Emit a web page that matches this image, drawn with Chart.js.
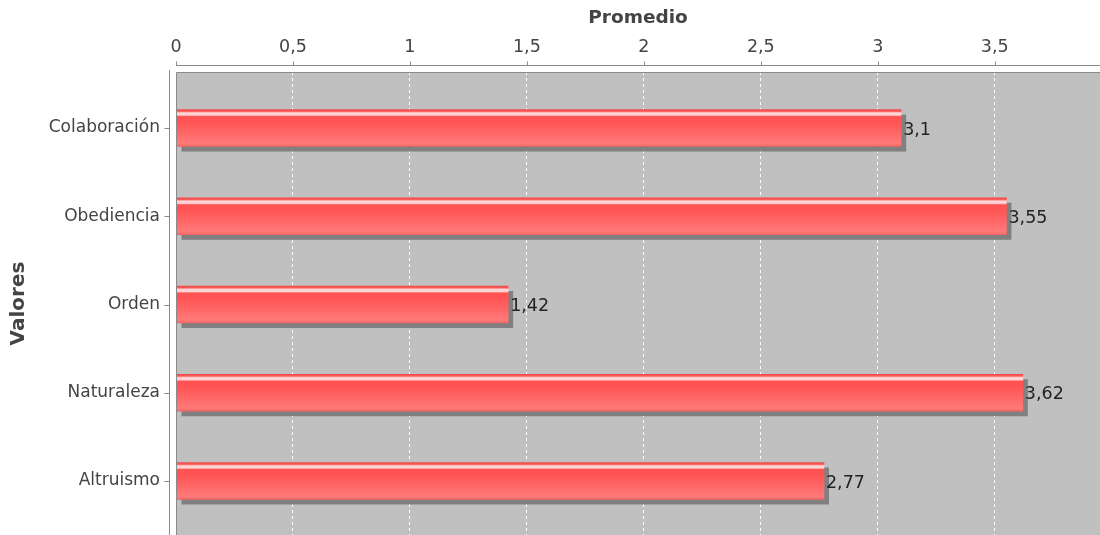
<!DOCTYPE html>
<html>
<head>
<meta charset="utf-8">
<script src="https://cdn.jsdelivr.net/npm/chart.js@4/dist/chart.umd.min.js"></script>
<style>
  html, body { margin: 0; padding: 0; background: #fff; overflow: hidden; }
  #wrap { width: 1100px; height: 535px; }
</style>
</head>
<body>
<div id="wrap"><canvas id="valoresChart"></canvas></div>
<script>
// Data
const categories = ["Colaboración", "Obediencia", "Orden", "Naturaleza", "Altruismo"];
const promedios = [3.1, 3.55, 1.42, 3.62, 2.77];
const xTicks = [0, 0.5, 1, 1.5, 2, 2.5, 3, 3.5];

const FONT = "'DejaVu Sans', Verdana, sans-serif";
const BAR_H = 37;
const comma = v => String(v).replace('.', ',');

// plot background, shadows, borders, value labels
const plotDeco = {
  id: 'plotDeco',
  beforeDraw(chart) {
    const { ctx, chartArea: a } = chart;
    ctx.save();
    ctx.fillStyle = '#fff';
    ctx.fillRect(0, 0, chart.width, chart.height);
    ctx.fillStyle = '#c0c0c0';
    ctx.fillRect(a.left, a.top, a.right - a.left, a.bottom - a.top);
    ctx.restore();
  },
  beforeDatasetsDraw(chart) {
    const ctx = chart.ctx;
    ctx.save();
    ctx.fillStyle = '#808080';
    chart.getDatasetMeta(0).data.forEach(bar => {
      const p = bar.getProps(['x', 'y', 'base', 'height'], true);
      ctx.fillRect(p.base + 5, p.y - p.height / 2 + 5, p.x - p.base, p.height);
    });
    ctx.restore();
  },
  afterDatasetsDraw(chart) {
    const ctx = chart.ctx;
    ctx.save();
    ctx.font = '17.5px ' + FONT;
    ctx.fillStyle = '#222';
    ctx.textAlign = 'left';
    ctx.textBaseline = 'middle';
    chart.getDatasetMeta(0).data.forEach((bar, i) => {
      const p = bar.getProps(['x', 'y'], true);
      ctx.fillText(comma(promedios[i]), p.x + 2, p.y + 2);
    });
    ctx.restore();
  },
  afterDraw(chart) {
    const { ctx, chartArea: a, scales } = chart;
    ctx.save();
    ctx.strokeStyle = '#8a8a8a';
    ctx.lineWidth = 1;
    // plot outline
    ctx.beginPath();
    ctx.moveTo(a.left + 0.5, a.bottom);
    ctx.lineTo(a.left + 0.5, a.top + 0.5);
    ctx.lineTo(a.right, a.top + 0.5);
    ctx.stroke();
    // x axis line + ticks (offset above the plot)
    const ay = a.top - 6.5;
    ctx.beginPath();
    ctx.moveTo(a.left, ay);
    ctx.lineTo(a.right, ay);
    scales.x.ticks.forEach(t => {
      const px = Math.round(scales.x.getPixelForValue(t.value)) + 0.5;
      ctx.moveTo(px, ay);
      ctx.lineTo(px, ay - 4);
    });
    ctx.stroke();
    // y axis line + ticks (offset left of the plot)
    const ax = a.left - 6.5;
    ctx.beginPath();
    ctx.moveTo(ax, a.top - 2);
    ctx.lineTo(ax, a.bottom);
    scales.y.ticks.forEach(t => {
      const py = Math.round(scales.y.getPixelForValue(t.value)) + 0.5;
      ctx.moveTo(ax, py);
      ctx.lineTo(ax - 5, py);
    });
    ctx.stroke();
    ctx.restore();
  }
};

function barGradient(context) {
  const chart = context.chart;
  const ys = chart.scales.y;
  if (!ys || context.dataIndex === undefined) return '#ff5555';
  const c = ys.getPixelForValue(context.dataIndex);
  if (!Number.isFinite(c)) return '#ff5555';
  const g = chart.ctx.createLinearGradient(0, c - BAR_H / 2, 0, c + BAR_H / 2);
  g.addColorStop(0, '#ee4a4a');
  g.addColorStop(0.05, '#ff5c5c');
  g.addColorStop(0.09, '#ffd8d8');
  g.addColorStop(0.15, '#ffd0d0');
  g.addColorStop(0.19, '#ff5353');
  g.addColorStop(0.35, '#ff5454');
  g.addColorStop(0.92, '#ff7a7a');
  g.addColorStop(1, '#f06464');
  return g;
}

const config = {
  type: 'bar',
  data: {
    datasets: [{
      label: 'Promedio',
      data: promedios.map((v, i) => ({ x: v, y: i })),
      backgroundColor: barGradient,
      borderWidth: 0,
      barThickness: BAR_H
    }]
  },
  options: {
    indexAxis: 'y',
    responsive: true,
    maintainAspectRatio: false,
    animation: false,
    layout: { padding: 0 },
    plugins: {
      legend: { display: false },
      tooltip: { enabled: false }
    },
    scales: {
      x: {
        type: 'linear',
        position: 'top',
        min: 0,
        max: 3.95,
        afterFit: s => { s.height = 72; s.paddingLeft = 0; s.paddingRight = 0; },
        afterBuildTicks: s => { s.ticks = xTicks.map(v => ({ value: v })); },
        ticks: {
          padding: 14,
          color: '#444',
          font: { family: FONT, size: 17.5 },
          callback: v => comma(v)
        },
        grid: {
          drawTicks: false,
          color: ctx => (ctx.tick && ctx.tick.value === 0) ? 'rgba(0,0,0,0)' : '#ffffff',
          lineWidth: 1
        },
        border: { display: false, dash: [3, 3] },
        title: {
          display: true,
          text: 'Promedio',
          color: '#444',
          font: { family: FONT, size: 18.5, weight: 'bold' },
          padding: { top: 7, bottom: 0 }
        }
      },
      y: {
        type: 'linear',
        reverse: true,
        offset: false,
        min: -0.635,
        max: 4.612,
        afterFit: s => { s.width = 176; s.paddingTop = 0; s.paddingBottom = 0; },
        afterBuildTicks: s => { s.ticks = categories.map((c, i) => ({ value: i })); },
        ticks: {
          padding: 16,
          color: '#444',
          font: { family: FONT, size: 17 },
          callback: v => categories[v]
        },
        grid: { display: false, drawTicks: false, offset: false },
        border: { display: false },
        title: {
          display: true,
          text: 'Valores',
          color: '#444',
          font: { family: FONT, size: 20, weight: 'bold' },
          padding: { top: 7, bottom: 0 }
        }
      }
    }
  },
  plugins: [plotDeco]
};

new Chart(document.getElementById('valoresChart'), config);
</script>
</body>
</html>
